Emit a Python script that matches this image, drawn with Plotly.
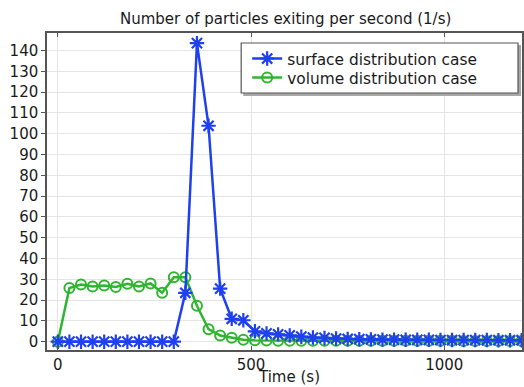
import plotly.graph_objects as go

time_s = [0, 30, 60, 90, 120, 150, 180, 210, 240, 270, 300, 330, 360, 390, 420,
          450, 480, 510, 540, 570, 600, 630, 660, 690, 720, 750, 780, 810, 840,
          870, 900, 930, 960, 990, 1020, 1050, 1080, 1110, 1140, 1170, 1200]

surface_case = [0, 0, 0, 0, 0, 0, 0, 0, 0, 0, 0, 23.5, 143.5, 103.8, 25.5,
                11.0, 10.3, 5.0, 4.0, 3.5, 3.0, 2.4, 2.0, 1.8, 1.5, 1.3, 1.2,
                1.1, 1.0, 1.0, 0.9, 0.9, 0.9, 0.8, 0.8, 0.8, 0.8, 0.8, 0.7, 0.7, 0.7]

volume_case = [0, 25.8, 27.5, 26.5, 27.0, 26.3, 27.8, 26.5, 28.0, 23.5, 31.0,
               31.0, 17.3, 6.0, 3.0, 1.9, 0.9, 0.7, 0.6, 0.5, 0.5, 0.5, 0.5,
               0.5, 0.4, 0.4, 0.4, 0.4, 0.4, 0.4, 0.4, 0.4, 0.4, 0.4, 0.4, 0.3,
               0.3, 0.3, 0.3, 0.3, 0.3]

x_ticks = [0, 500, 1000]
y_ticks = [0, 10, 20, 30, 40, 50, 60, 70, 80, 90, 100, 110, 120, 130, 140]

title_text = "Number of particles exiting per second (1/s)"
x_label = "Time (s)"
series_names = ["surface distribution case", "volume distribution case"]

BLUE = "#1f40ee"
GREEN = "#2fb52f"
FONT = "DejaVu Sans"
TXT = "#1a1a1a"

W, H = 524, 387
ML, MR, MT, MB = 47, 0, 33, 37
PW, PH = W - ML - MR, H - MT - MB


def px_x(p):
    return (p - ML) / PW


def px_y(p):
    return (H - MB - p) / PH


fig = go.Figure()
fig.add_trace(go.Scatter(
    x=time_s, y=volume_case, name=series_names[1], mode="lines+markers",
    line=dict(color=GREEN, width=2.5),
    marker=dict(symbol="circle-open", size=10, color=GREEN,
                line=dict(color=GREEN, width=2)),
    legend="legend2",
))
fig.add_trace(go.Scatter(
    x=time_s, y=surface_case, name=series_names[0], mode="lines+markers",
    line=dict(color=BLUE, width=2.5),
    marker=dict(symbol="asterisk-open", size=12, color=BLUE,
                line=dict(color=BLUE, width=2.2)),
    legend="legend",
))

legend_common = dict(
    xanchor="left", yanchor="middle",
    bgcolor="rgba(0,0,0,0)", borderwidth=0,
    font=dict(family=FONT, size=15.4, color=TXT),
)

fig.update_layout(
    width=W, height=H,
    margin=dict(l=ML, r=MR, t=MT, b=MB, pad=0),
    paper_bgcolor="white", plot_bgcolor="white",
    font=dict(family=FONT, size=15, color=TXT),
    showlegend=True,
    legend=dict(x=px_x(248), y=px_y(59), **legend_common),
    legend2=dict(x=px_x(248), y=px_y(78), **legend_common),
    xaxis=dict(
        range=[-28, 1201], tickvals=x_ticks, ticktext=[str(v) for v in x_ticks],
        showgrid=True, gridcolor="#e4e4e4", gridwidth=1,
        zeroline=False, showline=True, linecolor="#555555", linewidth=1.5,
        mirror="ticks", ticks="inside", ticklen=4, tickcolor="#555555",
        tickfont=dict(family=FONT, size=15, color=TXT),
    ),
    yaxis=dict(
        range=[-4, 148.4], tickvals=y_ticks, ticktext=[str(v) for v in y_ticks],
        showgrid=True, gridcolor="#e4e4e4", gridwidth=1,
        zeroline=False, showline=True, linecolor="#555555", linewidth=1.5,
        mirror=True, ticks="outside", ticklen=4, tickcolor="#555555",
        tickfont=dict(family=FONT, size=15, color=TXT),
    ),
    shapes=[
        dict(type="rect", xref="paper", yref="paper", layer="above",
             x0=px_x(244), x1=px_x(523), y0=px_y(96), y1=px_y(45),
             fillcolor="#a8a8a8", line=dict(width=0)),
        dict(type="rect", xref="paper", yref="paper", layer="above",
             x0=px_x(242), x1=px_x(520), y0=px_y(93), y1=px_y(43),
             fillcolor="white", line=dict(color="#555555", width=1.2)),
    ],
    annotations=[
        dict(text=title_text, xref="paper", yref="paper",
             x=px_x(287), y=px_y(19),
             xanchor="center", yanchor="middle", showarrow=False,
             font=dict(family=FONT, size=15, color=TXT)),
        dict(text=x_label, xref="paper", yref="paper",
             x=px_x(290), y=px_y(377),
             xanchor="center", yanchor="middle", showarrow=False,
             font=dict(family=FONT, size=15, color=TXT)),
    ],
)

fig.write_html(
    "out.html",
    config={"displayModeBar": False},
    post_script="document.body.style.margin='0';document.body.style.overflow='hidden';",
)
